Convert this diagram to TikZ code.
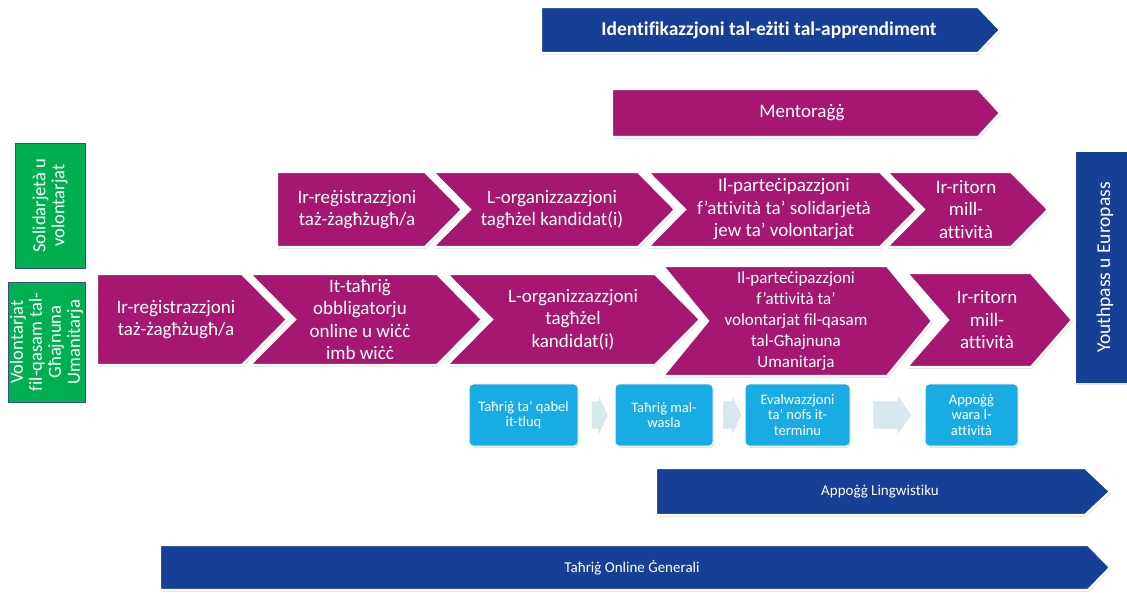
\documentclass[tikz,border=0pt]{standalone}
\usepackage{fontspec}
\setmainfont{Carlito}[Ligatures={NoCommon}]
\usetikzlibrary{calc, positioning, shadows, shapes.arrows}

\definecolor{navyblue}{RGB}{22,64,150}
\definecolor{plum}{RGB}{166,23,113}
\definecolor{leafgreen}{RGB}{0,176,80}
\definecolor{skyblue}{RGB}{25,172,228}
\definecolor{paleteal}{RGB}{214,233,236}
\definecolor{boxedge}{RGB}{47,82,143}

\tikzset{
  softshadow/.style={drop shadow={opacity=0.22, shadow xshift=1.2pt, shadow yshift=-1.8pt}},
  plumfill/.style={fill=plum, softshadow},
  navyfill/.style={fill=navyblue, softshadow},
  bandedge/.style={draw=white, line width=2.2pt, line join=miter},
  steptext/.style={text=white, align=center, inner sep=0pt, font=\fontsize{19}{22.5}\selectfont},
  smalltext/.style={text=white, align=center, inner sep=0pt, font=\fontsize{15}{18}\selectfont},
  sidebox/.style={fill=leafgreen, draw=boxedge, line width=0.6pt, text=white, align=center,
    rotate=90, inner sep=0pt, font=\fontsize{18.5}{19}\selectfont},
  passbox/.style={fill=navyblue, text=white, rotate=90, inner sep=0pt, softshadow,
    font=\fontsize{19.5}{22}\selectfont},
  taskbox/.style={rectangle, rounded corners=4pt, fill=skyblue, draw=white, line width=1pt,
    softshadow, text=white, align=center, inner sep=0pt, minimum height=62pt,
    font=\fontsize{14.5}{15.5}\selectfont},
  hintarrow/.style={single arrow, fill=paleteal, inner xsep=0pt, inner ysep=13.5pt,
    single arrow head extend=5.5pt, single arrow tip angle=110}
}

% #1 node options, #2 fill, #3 left, #4 tip, #5 top, #6 bottom, #7 depth, #8 text x, #9 text
\newcommand{\homeband}[9]{%
  \fill[#2] (#3,#5) -- ({#4-#7},#5) -- (#4,{(#5+#6)/2}) -- ({#4-#7},#6) -- (#3,#6) -- cycle;
  \node[#1] at (#8,{(#5+#6)/2}) {#9};
  \draw[bandedge] (#3,#5) -- ({#4-#7},#5) -- (#4,{(#5+#6)/2}) -- ({#4-#7},#6) -- (#3,#6) -- cycle;}
\newcommand{\chevband}[9]{%
  \fill[#2] (#3,#5) -- ({#4-#7},#5) -- (#4,{(#5+#6)/2}) -- ({#4-#7},#6) -- (#3,#6)
    -- ({#3+#7},{(#5+#6)/2}) -- cycle;
  \node[#1] at (#8,{(#5+#6)/2}) {#9};
  \draw[bandedge] (#3,#5) -- ({#4-#7},#5) -- (#4,{(#5+#6)/2}) -- ({#4-#7},#6) -- (#3,#6)
    -- ({#3+#7},{(#5+#6)/2}) -- cycle;}

\begin{document}
\begin{tikzpicture}[x=1pt, y=-1pt]
  \useasboundingbox (0,0) rectangle (1127,593);
  % Top bands
  \homeband{steptext, name=ident, font=\bfseries\fontsize{19.5}{22.5}\selectfont}{navyfill}{541}{1000}{7}{53}{22}{769}{Identifikazzjoni tal-eżiti tal-apprendiment}
  \homeband{steptext, name=mentor}{plumfill}{612}{1000}{89}{137}{22}{802}{Mentoraġġ}
  % Solidarity steps
  \homeband{steptext, name=regsol}{plumfill}{277}{462}{172}{247}{37}{357}{Ir-reġistrazzjoni\\taż-żagħżugħ/a}
  \chevband{steptext, name=orgsol}{plumfill}{433}{675}{172}{247}{37}{552}{L-organizzazzjoni\\tagħżel kandidat(i)}
  \chevband{steptext, name=partsol}{plumfill}{648}{917}{172}{247}{37}{784}{Il-parteċipazzjoni\\f’attività ta’ solidarjetà\\jew ta’ volontarjat}
  \chevband{steptext, name=retsol}{plumfill}{887}{1048}{172}{247}{37}{966}{Ir-ritorn\\mill-\\attività}
  % Humanitarian steps
  \homeband{steptext, name=reghum}{plumfill}{97}{287}{274}{365}{45}{176}{Ir-reġistrazzjoni\\taż-żagħżugħ/a}
  \chevband{steptext, name=trainhum}{plumfill}{250}{482}{274}{365}{45}{360}{It-taħriġ\\obbligatorju\\online u wiċċ\\imb wiċċ}
  \chevband{steptext, name=orghum}{plumfill}{447}{700}{274}{365}{45}{573}{L-organizzazzjoni\\tagħżel\\kandidat(i)}
  \chevband{steptext, name=parthum, font=\fontsize{17}{21}\selectfont}{plumfill}{663}{932}{266}{376}{45}{796}{Il-parteċipazzjoni\\f’attività ta’\\volontarjat fil-qasam\\tal-Għajnuna\\Umanitarja}
  \chevband{steptext, name=rethum}{plumfill}{907}{1072}{273}{367}{41}{987}{Ir-ritorn\\mill-\\attività}
  % Side labels
  \node[sidebox, minimum width=125pt, minimum height=70pt] (solid) at (50,205.5) {Solidarjetà u\\volontarjat};
  \node[sidebox, minimum width=120pt, minimum height=77pt] (human) at (46.5,342) {Volontarjat\\fil-qasam tal-\\Għajnuna\\Umanitarja};
  \node[passbox, minimum width=231pt, minimum height=58pt] (pass) at (1105,267.5) {Youthpass u Europass};
  % Training cycle
  \node[taskbox, minimum width=109pt] (predep) at (523.5,415) {Taħriġ ta’ qabel\\it-tluq};
  \node[taskbox, minimum width=98pt] (arrival) at (664,415) {Taħriġ mal-\\wasla};
  \node[taskbox, minimum width=105pt] (midterm) at (797.5,415) {Evalwazzjoni\\ta’ nofs it-\\terminu};
  \node[taskbox, minimum width=93pt] (after) at (971.5,415) {Appoġġ\\wara l-\\attività};
  \node[hintarrow, minimum height=16pt, single arrow tip angle=130] (hintone) at ($(predep.east)!0.5!(arrival.west)$) {};
  \node[hintarrow, minimum height=18pt, single arrow tip angle=130] (hinttwo) at ($(arrival.east)!0.5!(midterm.west)$) {};
  \node[hintarrow, minimum height=38pt] (hintthree) at ($(midterm.east)!0.5!(after.west)$) {};
  % Bottom bands
  \homeband{smalltext, name=lingua}{navyfill}{656}{1110}{468}{515}{25}{880}{Appoġġ Lingwistiku}
  \homeband{smalltext, name=online}{navyfill}{160}{1110}{545}{590}{22}{632}{Taħriġ Online Ġenerali}
\end{tikzpicture}
\end{document}
